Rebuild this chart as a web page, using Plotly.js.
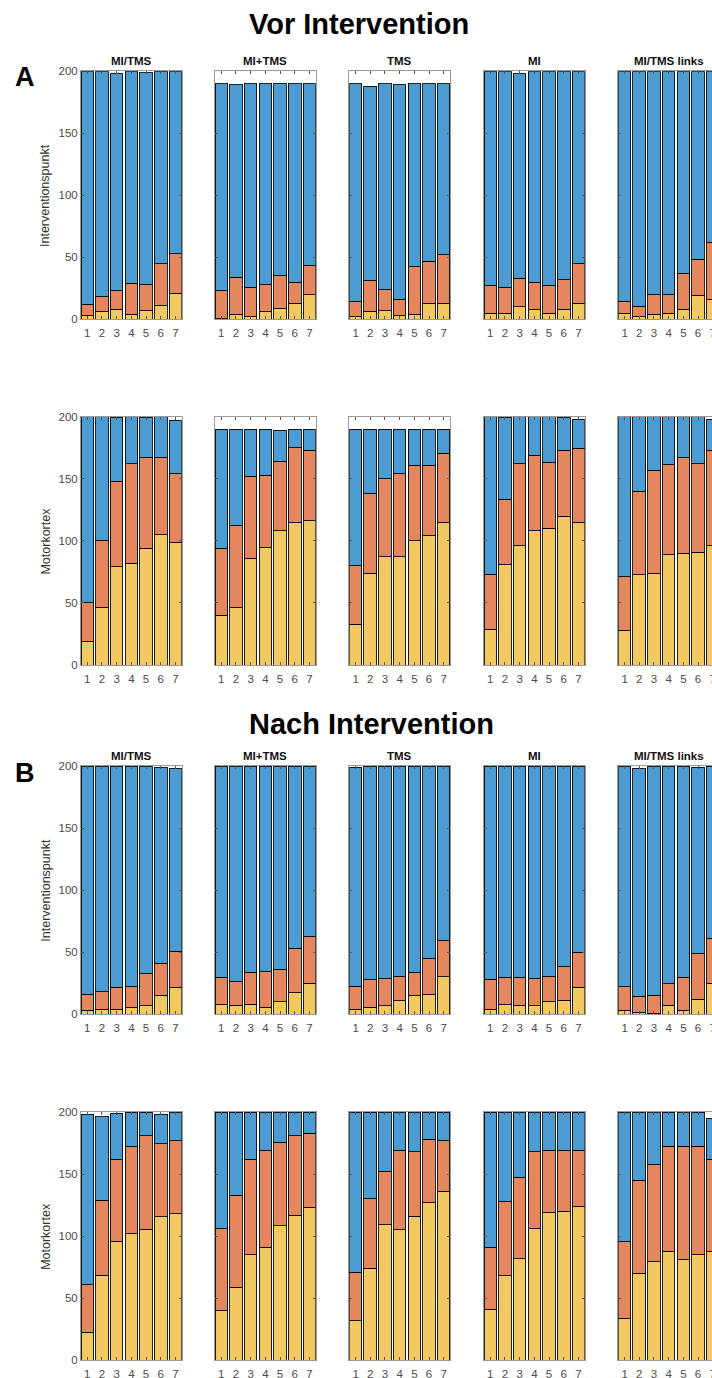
<!DOCTYPE html>
<html>
<head>
<meta charset="utf-8">
<script src="https://cdn.plot.ly/plotly-3.0.1.min.js"></script>
<style>
html,body{margin:0;padding:0;background:#fff;overflow:hidden;}
#chart{width:730px;height:1378px;}
</style>
</head>
<body>
<div id="chart"></div>
<script>
// ---------- data ----------
const groups = ["MI/TMS", "MI+TMS", "TMS", "MI", "MI/TMS links"];
const conditions = ["Vor Intervention", "Nach Intervention"];
const panelLetters = ["A", "B"];
const regions = ["Interventionspunkt", "Motorkortex"];
const levels = [1, 2, 3, 4, 5, 6, 7];
const yTicks = [0, 50, 100, 150, 200];

// Vor Intervention – Interventionspunkt (per group, per level)
const vorIP_yellow = [[3,6,8,4,7,11,21],[0.5,4,2,6,9,13,20],[2,6.5,7,3,4,13,13],[5,5,10,8,5,8,13],[5,2,4,5,8,19,16]];
const vorIP_orange = [[9,12,15,25,21,34,32],[22.5,30,24,22,26,17,23],[12,24.5,17,13,38.5,34,39],[22,21,23,22,22,24,32],[9.5,8.5,16,15,29,29.5,46]];
const vorIP_blue   = [[188,182,175,171,171,155,147],[167,155,164,162,155,160,147],[176,157,166,173,147.5,143,138],[173,174,165,170,173,168,155],[185.5,189.5,180,180,163,151.5,138]];

// Vor Intervention – Motorkortex
const vorMK_yellow = [[19,46,79,82,94,105,99],[40,46,86,95,108,115,116],[33,74,87,87,100,104,115],[29,81,96,108.5,110,120,115],[28,72.5,74,89,90,91,96]];
const vorMK_orange = [[31,54,69,80,73,62,55],[54,66,66,58,56,60,57],[47,64,63,67,61,57,55.5],[44,52.5,66,60.5,53.5,53,59.5],[43,67.5,83,72.5,77,71,77]];
const vorMK_blue   = [[150,100,51.5,38,32.5,33,43],[96,78,38,37,25,15,17],[110,52,40,36,29,29,19.5],[127,66,38,31,36.5,26.5,23.5],[129,60,43,38.5,33,38,25]];

// Nach Intervention – Interventionspunkt
const nachIP_yellow = [[3,4,4,5,6.5,15,21.5],[7.5,7,8,5.5,10,17,25],[4,5.5,6.5,10.5,15,15.5,30],[4,8,7,6.5,9.7,11,21.5],[3,1.5,0.5,7,3,12,25]];
const nachIP_orange = [[13,14,17.5,17,26,26,29],[22,19,25.5,28.5,25.5,36,37.5],[18.5,22,22,20,18.5,29.5,29],[24,21.5,22.5,22,20.3,27,28.5],[19,13,14.5,17.5,26.5,36.5,36]];
const nachIP_blue   = [[184,182,178.5,178,167.5,158,147.5],[170.5,174,166.5,166,164.5,147,137.5],[176.5,172.5,171.5,169.5,166.5,155,141],[172,170.5,170.5,171.5,170,162,150],[178,183.5,185,175.5,170.5,150.5,139]];

// Nach Intervention – Motorkortex
const nachMK_yellow = [[22,68.5,96,102,105.5,115.5,118],[40,59,85,91,108.5,117,123],[32,74,109,105,116,127,136],[41,68,82,106,119,120,124],[34,70,79.5,88,81,85,88]];
const nachMK_orange = [[39,60.5,66,70,75.5,59,59],[66,74,77,78,67,64,60],[39,56,43,64,52,51,41],[50,60,65.5,62,50,49,45],[61.5,75,78,84.5,91.5,87.5,74]];
const nachMK_blue   = [[137,67,37,28,19,23.5,23],[94,67,38,31,24.5,19,17],[129,70,48,31,32,22,23],[109,72,52.5,32,31,31,31],[104.5,55,42,27.5,27,27.5,33]];

// ---------- layout geometry ----------
const W = 730, H = 1378;
const colors = ["#F2C862", "#E4865E", "#4C9CD1"];
const panelLeft = [81, 215, 349.3, 484, 618.3];
const panelWidth = 100.7;
const rowPix = [[71.3, 319.3], [416.7, 665], [766, 1014], [1112, 1360.3]];
const FONT = "Liberation Sans, Arial, Helvetica, sans-serif";

const rowsData = [
  [vorIP_yellow, vorIP_orange, vorIP_blue],
  [vorMK_yellow, vorMK_orange, vorMK_blue],
  [nachIP_yellow, nachIP_orange, nachIP_blue],
  [nachMK_yellow, nachMK_orange, nachMK_blue]
];

const traces = [];
const layout = {
  width: W, height: H,
  margin: {l: 0, r: 0, t: 0, b: 0},
  paper_bgcolor: "#fff", plot_bgcolor: "#fff",
  barmode: "stack", bargap: 0.14,
  showlegend: false,
  font: {family: FONT, color: "#444"},
  annotations: []
};

for (let r = 0; r < 4; r++) {
  const [top, bot] = rowPix[r];
  for (let g = 0; g < 5; g++) {
    const k = r * 5 + g + 1;
    const xa = "x" + k, ya = "y" + k;
    for (let s = 0; s < 3; s++) {
      traces.push({
        type: "bar", x: levels, y: rowsData[r][s][g],
        xaxis: xa, yaxis: ya,
        marker: {color: colors[s], line: {color: "rgba(0,0,0,0.85)", width: 1}},
        hoverinfo: "skip"
      });
    }
    const axCommon = {
      showline: true, mirror: "ticks", linecolor: "#9a9a9a", linewidth: 1,
      ticks: "inside", ticklen: 3, tickcolor: "#555", tickwidth: 1,
      showgrid: false, zeroline: false, fixedrange: true,
      tickfont: {family: FONT, size: 11.5, color: "#4a4a4a"}
    };
    layout["xaxis" + k] = Object.assign({}, axCommon, {
      domain: [panelLeft[g] / W, (panelLeft[g] + panelWidth) / W],
      anchor: ya, range: [0.57, 7.43], tickvals: levels,
      ticklabelstandoff: 3
    });
    layout["yaxis" + k] = Object.assign({}, axCommon, {
      domain: [(H - bot) / H, (H - top) / H],
      anchor: xa, range: [0, 200], tickvals: yTicks,
      showticklabels: g === 0
    });
    // group titles on the top row of each block
    if (r === 0 || r === 2) {
      layout.annotations.push({
        text: "<b>" + groups[g] + "</b>", xref: "paper", yref: "paper",
        x: (panelLeft[g] + panelWidth / 2) / W, y: (H - (top - 10)) / H,
        xanchor: "center", yanchor: "middle", showarrow: false,
        font: {family: FONT, size: 11.5, color: "#111"}
      });
    }
  }
  // y axis title for the row
  layout.annotations.push({
    text: regions[r % 2], xref: "paper", yref: "paper",
    x: 45.7 / W, y: (H - (top + bot) / 2) / H, textangle: -90,
    xanchor: "center", yanchor: "middle", showarrow: false,
    font: {family: FONT, size: 12.5, color: "#333"}
  });
}

// block titles and letters
const titleY = [24, 724];
const titleX = [359, 371];
const letterY = [77, 773];
for (let c = 0; c < 2; c++) {
  layout.annotations.push({
    text: "<b>" + conditions[c] + "</b>", xref: "paper", yref: "paper",
    x: titleX[c] / W, y: (H - titleY[c]) / H, xanchor: "center", yanchor: "middle",
    showarrow: false, font: {family: FONT, size: 29, color: "#000"}
  });
  layout.annotations.push({
    text: "<b>" + panelLetters[c] + "</b>", xref: "paper", yref: "paper",
    x: 25 / W, y: (H - letterY[c]) / H, xanchor: "center", yanchor: "middle",
    showarrow: false, font: {family: FONT, size: 27, color: "#000"}
  });
}

Plotly.newPlot("chart", traces, layout, {staticPlot: true, displayModeBar: false});
</script>
</body>
</html>
